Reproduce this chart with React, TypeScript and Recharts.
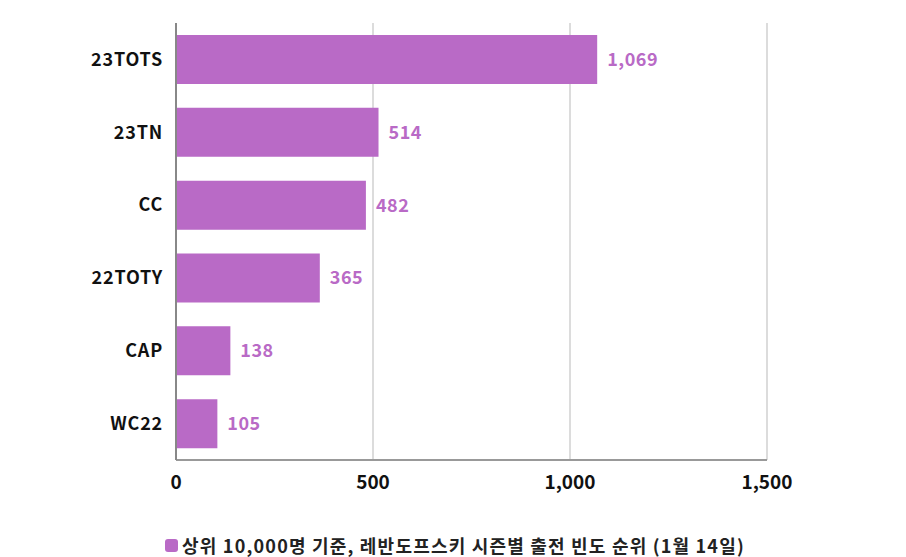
import React from 'react'
import { BarChart, Bar, XAxis, YAxis, CartesianGrid, LabelList, Legend } from 'recharts'

const categories = ['23TOTS', '23TN', 'CC', '22TOTY', 'CAP', 'WC22']
const counts = [1069, 514, 482, 365, 138, 105]
const xTicks = [0, 500, 1000, 1500]
const seriesName = '상위 10,000명 기준, 레반도프스키 시즌별 출전 빈도 순위 (1월 14일)'

const PURPLE = '#b96ac6'
const FONT = '"Noto Sans CJK KR", "Noto Sans", sans-serif'

const fmt = (v: any) => Number(v).toLocaleString('en-US')

const LegendBox = () => (
  <div style={{ display: 'flex', alignItems: 'center', height: 22, paddingLeft: 165, fontFamily: FONT }}>
    <span style={{ width: 13, height: 13, borderRadius: 3, background: PURPLE, marginRight: 4, marginTop: -2 }} />
    <span style={{ fontSize: 18, lineHeight: '20px', letterSpacing: 1.2, fontWeight: 700, color: '#222', marginTop: -2, whiteSpace: 'nowrap' }}>{seriesName}</span>
  </div>
)

export default function App() {
  const data = categories.map((c, i) => ({ name: c, value: counts[i] }))
  return (
    <div style={{ position: 'absolute', left: 0, top: 0, width: 906, height: 557, overflow: 'hidden', background: '#fff', fontFamily: FONT }}>
      <BarChart
        width={906}
        height={557}
        data={data}
        layout="vertical"
        margin={{ top: 23, right: 139, bottom: 0, left: 0 }}
        barCategoryGap={12}
      >
        <CartesianGrid horizontal={false} stroke="#dcdcdc" strokeWidth={2} />
        <XAxis
          type="number"
          domain={[0, 1500]}
          ticks={xTicks}
          tickFormatter={fmt}
          height={75}
          tickLine={false}
          tickMargin={10}
          axisLine={{ stroke: '#999', strokeWidth: 2 }}
          tick={{ fill: '#111', fontSize: 19, fontWeight: 700, fontFamily: FONT }}
        />
        <YAxis
          type="category"
          dataKey="name"
          width={176}
          tickLine={false}
          tickMargin={7}
          axisLine={{ stroke: '#888', strokeWidth: 2 }}
          tick={{ fill: '#111', fontSize: 18, fontWeight: 700, fontFamily: FONT, letterSpacing: 0.8 }}
        />
        <Legend verticalAlign="bottom" content={() => <LegendBox />} />
        <Bar dataKey="value" name={seriesName} fill={PURPLE} isAnimationActive={false}>
          <LabelList
            dataKey="value"
            position="right"
            offset={10}
            formatter={fmt}
            style={{ fill: PURPLE, fontSize: 18, fontWeight: 700, fontFamily: FONT, letterSpacing: 0.5 }}
          />
        </Bar>
      </BarChart>
    </div>
  )
}
